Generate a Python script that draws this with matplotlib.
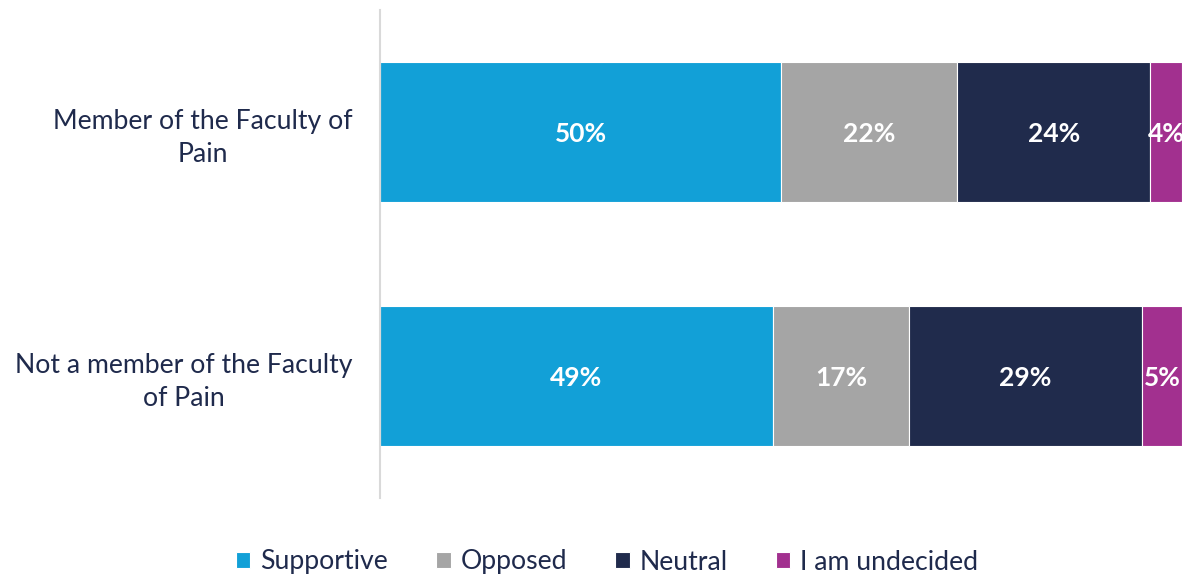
import matplotlib
matplotlib.use("Agg")
import matplotlib.pyplot as plt

categories = ["Member of the Faculty of\nPain", "Not a member of the Faculty\nof Pain"]
series_names = ["Supportive", "Opposed", "Neutral", "I am undecided"]
supportive = [50, 49]
opposed = [22, 17]
neutral = [24, 29]
undecided = [4, 5]
values = [supportive, opposed, neutral, undecided]
colors = ["#12A0D7", "#A5A5A5", "#202B4C", "#A2308F"]
text_color = "#1F2A4C"

plt.rcParams['font.family'] = ['Lato', 'DejaVu Sans']

fig = plt.figure(figsize=(11.9, 5.78), dpi=100)
ax = fig.add_axes([380/1190, 1-498/578, (1182-380)/1190, 488/578])

ypos = list(range(len(categories)))
left = [0]*len(categories)
handles = []
for name, vals, col in zip(series_names, values, colors):
    b = ax.barh(ypos, vals, left=left, height=0.571, color=col, label=name,
                edgecolor="white", linewidth=0.8)
    handles.append(b)
    for y, v, l in zip(ypos, vals, left):
        ax.text(l + v/2, y + 0.01, f"{v}%", ha="center", va="center", color="white",
                fontsize=19, fontweight="bold")
    left = [l + v for l, v in zip(left, vals)]

ax.set_xlim(0, 100)
ax.set_ylim(1.5, -0.5)
ax.set_yticks(ypos)
ax.set_yticklabels(categories, fontsize=19.2, color=text_color, ha="right",
                   multialignment="center", linespacing=1.35)
ax.tick_params(axis="y", length=0, pad=20)
ax.set_xticks([])
for s in ["top", "right", "bottom"]:
    ax.spines[s].set_visible(False)
ax.spines["left"].set_color("#D9D9D9")
ax.spines["left"].set_linewidth(1.5)

leg = fig.legend(handles=handles, labels=series_names, loc="center",
                 bbox_to_anchor=(607/1190, 1-562/578), ncol=4, frameon=False,
                 fontsize=19.2, handlelength=0.55, handleheight=0.55,
                 handletextpad=0.37, columnspacing=1.8)
for t in leg.get_texts():
    t.set_color(text_color)

fig.savefig("out.png", dpi=100)
